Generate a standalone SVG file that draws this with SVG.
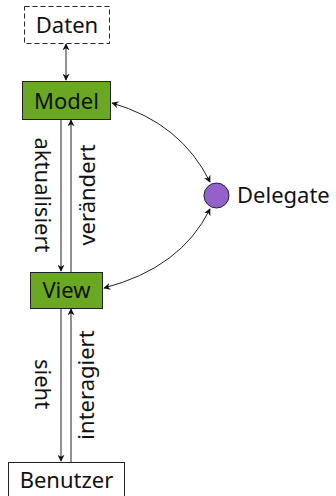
<svg xmlns="http://www.w3.org/2000/svg" width="336" height="496" viewBox="0 0 336 496">
<defs>
<marker id="ah" viewBox="0 0 10 10" refX="9" refY="5" markerWidth="7" markerHeight="7" markerUnits="userSpaceOnUse" orient="auto-start-reverse">
<path d="M0,0 L10,5 L0,10 L3,5 Z" fill="#111"/>
</marker>
<style>
text{font-family:"Noto Sans","Open Sans",sans-serif;font-size:22px;fill:#111}
.box{stroke:#222;stroke-width:1}
.green{fill:#6aa823}
.wire{fill:none;stroke:#222;stroke-width:1}
</style>
</defs>
<g id="connectors">
<line class="wire" x1="66" y1="44" x2="66" y2="80" marker-start="url(#ah)" marker-end="url(#ah)"/>
<line class="wire" x1="61" y1="119" x2="61" y2="271" marker-end="url(#ah)"/>
<line class="wire" x1="71" y1="272" x2="71" y2="120" marker-end="url(#ah)"/>
<line class="wire" x1="61" y1="308" x2="61" y2="461" marker-end="url(#ah)"/>
<line class="wire" x1="71" y1="462" x2="71" y2="309" marker-end="url(#ah)"/>
<path class="wire" d="M112,103 Q181,123 210,182" marker-start="url(#ah)" marker-end="url(#ah)"/>
<path class="wire" d="M104,288 Q181,268 210,209" marker-start="url(#ah)" marker-end="url(#ah)"/>
<text transform="translate(35,195) rotate(90)" text-anchor="middle">aktualisiert</text>
<text transform="translate(95,195) rotate(-90)" text-anchor="middle">verändert</text>
<text transform="translate(35,384) rotate(90)" text-anchor="middle">sieht</text>
<text transform="translate(94,385) rotate(-90)" text-anchor="middle">interagiert</text>
</g>
<g id="daten">
<rect x="24.5" y="6.5" width="85" height="37" fill="#fff" stroke="#222" stroke-dasharray="5,3"/>
<text x="67" y="33" text-anchor="middle">Daten</text>
</g>
<g id="model">
<rect class="box green" x="22.5" y="81.5" width="88" height="38"/>
<text x="66.5" y="109" text-anchor="middle">Model</text>
</g>
<g id="view">
<rect class="box green" x="30.5" y="272.5" width="72" height="36"/>
<text x="66.5" y="298" text-anchor="middle">View</text>
</g>
<g id="benutzer">
<rect class="box" x="8.5" y="462.5" width="116" height="36" fill="#fff"/>
<text x="66.5" y="488" text-anchor="middle">Benutzer</text>
</g>
<g id="delegate">
<circle cx="216.5" cy="195.5" r="12.5" fill="#9460cc" stroke="#222"/>
<text x="237" y="203">Delegate</text>
</g>
</svg>
